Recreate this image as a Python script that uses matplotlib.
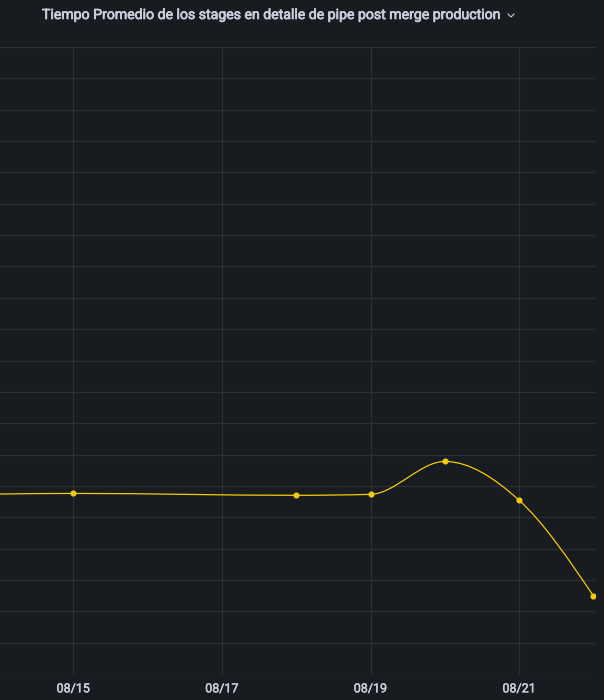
import numpy as np
import pandas as pd
import matplotlib
matplotlib.use("Agg")
import matplotlib.pyplot as plt
import matplotlib.dates as mdates
import matplotlib.patheffects as pe
from matplotlib.path import Path
from matplotlib.patches import PathPatch
from matplotlib.lines import Line2D

# data (y axis labels are cropped out, units arbitrary)
dates = ['2023-08-14', '2023-08-15', '2023-08-18', '2023-08-19',
         '2023-08-20', '2023-08-21', '2023-08-22']
avg_time = [5.74, 5.76, 5.70, 5.73, 6.78, 5.54, 2.49]

tick_dates = ['2023-08-15', '2023-08-17', '2023-08-19', '2023-08-21']
tick_labels = ['08/15', '08/17', '08/19', '08/21']
y_ticks = list(range(0, 21))
x_range = ['2023-08-14 00:20', '2023-08-22 00:30']

title = "Tiempo Promedio de los stages en detalle de pipe post merge production"

BG = '#181b1f'
GRID = '#2c2f35'
TEXT = '#ccccdc'
LINE = '#f2cc0c'

plt.rcParams['font.family'] = ['Roboto', 'DejaVu Sans']


def monotone_path(x, y):
    # same monotone cubic as grafana "smooth" lines, as bezier segments
    x = np.asarray(x, float)
    y = np.asarray(y, float)
    n = len(x)
    t = np.zeros(n)
    for i in range(1, n - 1):
        h0, h1 = x[i] - x[i - 1], x[i + 1] - x[i]
        s0, s1 = (y[i] - y[i - 1]) / h0, (y[i + 1] - y[i]) / h1
        p = (s0 * h1 + s1 * h0) / (h0 + h1)
        t[i] = (np.sign(s0) + np.sign(s1)) * min(abs(s0), abs(s1), 0.5 * abs(p))
    t[0] = (3 * (y[1] - y[0]) / (x[1] - x[0]) - t[1]) / 2
    t[-1] = (3 * (y[-1] - y[-2]) / (x[-1] - x[-2]) - t[-2]) / 2
    verts = [(x[0], y[0])]
    codes = [Path.MOVETO]
    for i in range(n - 1):
        dx = (x[i + 1] - x[i]) / 3
        verts += [(x[i] + dx, y[i] + dx * t[i]),
                  (x[i + 1] - dx, y[i + 1] - dx * t[i + 1]),
                  (x[i + 1], y[i + 1])]
        codes += [Path.CURVE4] * 3
    return Path(verts, codes)


xs = mdates.date2num(pd.to_datetime(dates))

fig = plt.figure(figsize=(6.04, 7.00), dpi=100, facecolor=BG)
ax = fig.add_axes([0.0, 26 / 700, 595 / 604, 627 / 700])
ax.set_facecolor(BG)

ax.add_patch(PathPatch(monotone_path(xs, avg_time), facecolor='none',
                       edgecolor=LINE, lw=0.9, zorder=3))
# first point sits on the panel edge, its dot is cut off in the panel
ax.plot(xs, avg_time, ls='none', marker='o', ms=3.4, color=LINE,
        mec=LINE, zorder=4, markevery=slice(1, None))

ax.set_xlim(mdates.date2num(pd.to_datetime(x_range)))
ax.set_ylim(y_ticks[0], y_ticks[-1])
ax.set_xticks(mdates.date2num(pd.to_datetime(tick_dates)))
ax.set_xticklabels(tick_labels)
ax.set_yticks(y_ticks)
ax.set_yticklabels([])
ax.grid(True, color=GRID, lw=0.8)
ax.set_axisbelow(True)
ax.tick_params(length=0, colors=TEXT, labelsize=9, pad=6)
for lbl in ax.get_xticklabels():
    lbl.set_path_effects([pe.withStroke(linewidth=0.3, foreground=TEXT)])
for s in ax.spines.values():
    s.set_visible(False)

fig.text(42 / 604, 1 - 15 / 700, title, color=TEXT, fontsize=10.15,
         ha='left', va='center',
         path_effects=[pe.withStroke(linewidth=0.5, foreground=TEXT)])
# small dropdown chevron after the title
fig.add_artist(Line2D([508 / 604, 511 / 604, 514 / 604],
                      [1 - 14 / 700, 1 - 17 / 700, 1 - 14 / 700],
                      transform=fig.transFigure, color=TEXT, lw=0.8))

fig.savefig('out.png', dpi=100, facecolor=BG)
